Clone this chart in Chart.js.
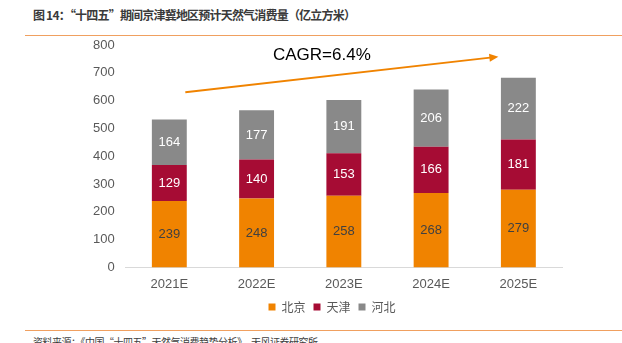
<!DOCTYPE html>
<html>
<head>
<meta charset="utf-8">
<script src="https://cdn.jsdelivr.net/npm/chart.js@4"></script>
<style>
  body { margin: 0; background: #fff; width: 622px; height: 343px; overflow: hidden; position: relative; font-family: "Liberation Sans", "Noto Sans CJK SC", sans-serif; }
  #title { position: absolute; left: 33px; top: 6px; font-size: 12px; letter-spacing: -0.8px; font-weight: bold; color: #3a3a3a; font-family: "Noto Sans CJK SC", sans-serif; white-space: nowrap; }
  #topLine { position: absolute; left: 25px; right: 0; top: 35px; height: 1px; background: #F0A060; }
  #bottomLine { position: absolute; left: 25px; right: 0; top: 330px; height: 1px; background: #F0A060; }
  #source { position: absolute; left: 33px; top: 334px; font-size: 10px; letter-spacing: -0.5px; color: #404040; font-family: "Noto Sans CJK SC", sans-serif; white-space: nowrap; }
  #wrap { position: absolute; left: 0; top: 28px; width: 622px; height: 295px; }
</style>
</head>
<body>
<div id="title">图 14：“十四五”期间京津冀地区预计天然气消费量（亿立方米）</div>
<div id="topLine"></div>
<div id="wrap"><canvas id="myChart"></canvas></div>
<div id="bottomLine"></div>
<div id="source">资料来源：《中国“十四五”天然气消费趋势分析》，天风证券研究所</div>
<script>
const years = ['2021E', '2022E', '2023E', '2024E', '2025E'];
const beijing = [239, 248, 258, 268, 279];
const tianjin = [129, 140, 153, 166, 181];
const hebei = [164, 177, 191, 206, 222];
const cagrText = 'CAGR=6.4%';

// arrow + CAGR label drawn over the bars
const arrowPlugin = {
    id: 'arrow',
    afterDatasetsDraw(chart) {
        const c = chart.ctx;
        const x = chart.scales.x, y = chart.scales.y;
        const x0 = x.getPixelForValue(0) + 16, y0 = y.getPixelForValue(630);
        const x1 = x.getPixelForValue(4) - 20, y1 = y.getPixelForValue(758);
        c.save();
        c.strokeStyle = '#F08300';
        c.fillStyle = '#F08300';
        c.lineWidth = 2;
        c.beginPath();
        c.moveTo(x0, y0);
        c.lineTo(x1 - 6, y1 + 0.7);
        c.stroke();
        const a = Math.atan2(y1 - y0, x1 - x0);
        c.beginPath();
        c.moveTo(x1, y1);
        c.lineTo(x1 - 9 * Math.cos(a) + 4 * Math.sin(a), y1 - 9 * Math.sin(a) - 4 * Math.cos(a));
        c.lineTo(x1 - 9 * Math.cos(a) - 4 * Math.sin(a), y1 - 9 * Math.sin(a) + 4 * Math.cos(a));
        c.closePath();
        c.fill();
        c.fillStyle = '#000';
        c.font = '17px "Liberation Sans", Arial, sans-serif';
        c.textAlign = 'center';
        c.textBaseline = 'middle';
        c.fillText(cagrText, (x.getPixelForValue(1) + x.getPixelForValue(3)) / 2 - 22, y.getPixelForValue(764));
        c.restore();
    }
};

// value labels inside each segment
const labelPlugin = {
    id: 'segLabels',
    afterDatasetsDraw(chart) {
        const c = chart.ctx;
        c.save();
        c.font = '13px "Liberation Sans", Arial, sans-serif';
        c.textAlign = 'center';
        c.textBaseline = 'middle';
        chart.data.datasets.forEach((ds, i) => {
            chart.getDatasetMeta(i).data.forEach((bar, j) => {
                c.fillStyle = i === 0 ? '#404040' : '#ffffff';
                c.fillText(ds.data[j], bar.x, (bar.y + bar.base) / 2);
            });
        });
        c.restore();
    }
};

// legend sits a bit right of centre in the original
const legendShift = {
    id: 'legendShift',
    afterLayout(chart) {
        chart.legend.left += 6;
        chart.legend.right += 6;
    }
};

const ctx = document.getElementById('myChart').getContext('2d');
const gasChart = new Chart(ctx, {
    type: 'bar',
    data: {
        labels: years,
        datasets: [
            { label: '北京', data: beijing, backgroundColor: '#F08300' },
            { label: '天津', data: tianjin, backgroundColor: '#A60C34' },
            { label: '河北', data: hebei, backgroundColor: '#898989' }
        ]
    },
    options: {
        responsive: true,
        maintainAspectRatio: false,
        animation: false,
        barPercentage: 0.4,
        categoryPercentage: 1,
        layout: { padding: { top: 17, right: 60, bottom: 0, left: 90 } },
        scales: {
            x: {
                stacked: true,
                grid: { display: false },
                border: { color: '#D9D9D9' },
                ticks: { color: '#595959', font: { size: 13, family: '"Liberation Sans", Arial, sans-serif' }, padding: 1 }
            },
            y: {
                stacked: true,
                min: 0,
                max: 800,
                grid: { display: false },
                border: { display: false },
                ticks: { stepSize: 100, color: '#595959', padding: 3, font: { size: 13, family: '"Liberation Sans", Arial, sans-serif' } }
            }
        },
        plugins: {
            legend: {
                position: 'bottom',
                labels: {
                    usePointStyle: true,
                    pointStyle: 'rect',
                    boxWidth: 7,
                    boxHeight: 7,
                    padding: 8,
                    color: '#595959',
                    font: { size: 12, family: '"Noto Sans CJK SC", sans-serif' }
                }
            },
            tooltip: { enabled: false }
        }
    },
    plugins: [labelPlugin, arrowPlugin, legendShift]
});
</script>
</body>
</html>
